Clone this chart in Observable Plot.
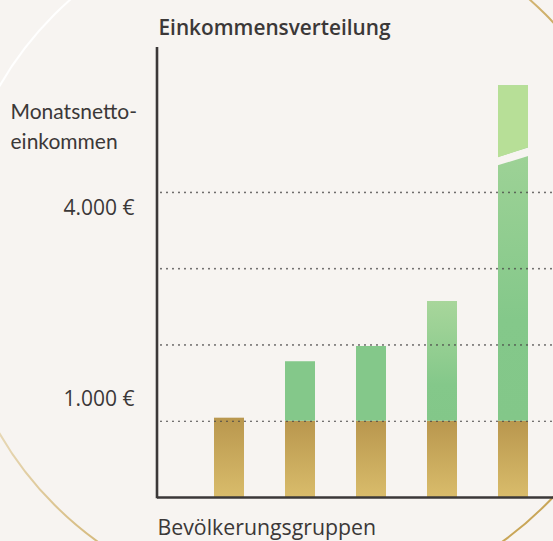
<!DOCTYPE html>
<html><head><meta charset="utf-8">
<script src="https://cdn.jsdelivr.net/npm/d3@7"></script>
<script src="https://cdn.jsdelivr.net/npm/@observablehq/plot@0.6"></script>
<style>html,body{margin:0;padding:0;background:#f7f4f1;overflow:hidden}</style>
</head><body><div id="chart"></div>
<script>
// ---- data ----
const groups = ["Gruppe 1", "Gruppe 2", "Gruppe 3", "Gruppe 4", "Gruppe 5"];
const baseIncome = [1040, 1000, 1000, 1000, 1000];
const extraIncome = [0, 780, 980, 1570, 4400];
const breakValue = 4400;            // where the tallest bar is visually broken
const gridValues = [1000, 2000, 3000, 4000];
const tickValues = [4000, 1000];
const tickLabels = ["4.000 €", "1.000 €"];
const title = "Einkommensverteilung";
const yLabel = "Monatsnetto-\neinkommen";
const xLabel = "Bevölkerungsgruppen";

const rows = groups.map((g, i) => ({group: g, base: baseIncome[i], extra: extraIncome[i], total: baseIncome[i] + extraIncome[i]}));

const NS = "http://www.w3.org/2000/svg";
const BG = "#f7f4f1";
const INK = "#3b3838";
const SANS = "'Open Sans', 'Noto Sans', sans-serif";

function defsMark() {
  const g = document.createElementNS(NS, "g");
  g.innerHTML = `<defs>
    <linearGradient id="goldGrad" x1="0" y1="0" x2="0" y2="1">
      <stop offset="0" stop-color="#b9974e"/><stop offset="1" stop-color="#d9bc6b"/>
    </linearGradient>
    <linearGradient id="greenGrad" x1="0" y1="0" x2="0" y2="1">
      <stop offset="0" stop-color="#a8d69b"/><stop offset="0.7" stop-color="#84c88a"/><stop offset="1" stop-color="#83c789"/>
    </linearGradient>
    <linearGradient id="ringGrad" gradientUnits="userSpaceOnUse" x1="40" y1="40" x2="400" y2="300">
      <stop offset="0" stop-color="#ffffff"/><stop offset="1" stop-color="#c9a658"/>
    </linearGradient>
  </defs>`;
  return g;
}

function ringMark(_, scales, values, dims) {
  const c = document.createElementNS(NS, "circle");
  c.setAttribute("cx", dims.width * 0.5425);
  c.setAttribute("cy", dims.height * 0.48);
  c.setAttribute("r", 347);
  c.setAttribute("fill", "none");
  c.setAttribute("stroke", "url(#ringGrad)");
  c.setAttribute("stroke-width", 2);
  return c;
}

function breakMark(_, scales) {
  const x = scales.x, y = scales.y;
  const last = rows[rows.length - 1];
  const bw = x.bandwidth ? x.bandwidth() : 30;
  const x0 = x(last.group), x1 = x0 + bw;
  const yTop = y(last.total);
  const yc = y(breakValue);
  const drop = bw * 0.33, gap = 8.4;
  const g = document.createElementNS(NS, "g");
  const gapPoly = document.createElementNS(NS, "polygon");
  gapPoly.setAttribute("points", [
    [x0 - 1, yc - gap / 2], [x1 + 1, yc - drop - gap / 2], [x1 + 1, yc - drop + gap / 2], [x0 - 1, yc + gap / 2]
  ].map(p => p.join(",")).join(" "));
  gapPoly.setAttribute("fill", BG);
  const upper = document.createElementNS(NS, "polygon");
  upper.setAttribute("points", [
    [x0, yTop], [x1, yTop], [x1, yc - drop - gap / 2], [x0, yc - gap / 2]
  ].map(p => p.join(",")).join(" "));
  upper.setAttribute("fill", "#b7df97");
  g.append(gapPoly, upper);
  return g;
}

const chart = Plot.plot({
  width: 553,
  height: 541,
  marginLeft: 157,
  marginRight: 0,
  marginTop: 47,
  marginBottom: 44,
  style: {background: BG, fontFamily: SANS, color: INK, overflow: "hidden"},
  x: {type: "band", domain: groups, range: [190.4, 551.6], paddingInner: 0.5833, paddingOuter: 0.3, axis: null},
  y: {domain: [0, 5900], axis: null},
  marks: [
    defsMark,
    ringMark,
    Plot.barY(rows, {x: "group", y1: 0, y2: "base", fill: "url(#goldGrad)"}),
    Plot.barY(rows.filter(d => d.extra > 0 && d.extra < 1200), {x: "group", y1: "base", y2: "total", fill: "#84c88a"}),
    Plot.barY(rows.filter(d => d.extra >= 1200), {x: "group", y1: "base", y2: "total", fill: "url(#greenGrad)"}),
    breakMark,
    Plot.ruleY(gridValues, {stroke: "#4a4848", strokeWidth: 1.7, strokeDasharray: "0 6", strokeLinecap: "round", strokeDashoffset: -4}),
    Plot.ruleY([0], {stroke: INK, strokeWidth: 2.6}),
    (_, s, v, d) => {
      const l = document.createElementNS(NS, "line");
      l.setAttribute("x1", d.marginLeft); l.setAttribute("x2", d.marginLeft);
      l.setAttribute("y1", d.marginTop); l.setAttribute("y2", d.height - d.marginBottom + 1.3);
      l.setAttribute("stroke", INK); l.setAttribute("stroke-width", 2.6);
      return l;
    },
    Plot.text([tickValues[0]], {y: d => d, text: () => tickLabels[0], frameAnchor: "left", textAnchor: "end", lineAnchor: "middle", dx: -23, dy: 15.4, fontSize: 21, fill: INK, fontFamily: SANS}),
    Plot.text([tickValues[1]], {y: d => d, text: () => tickLabels[1], frameAnchor: "left", textAnchor: "end", lineAnchor: "middle", dx: -23, dy: -21.7, fontSize: 21, fill: INK, fontFamily: SANS}),
    Plot.text([title], {text: d => d, frameAnchor: "top-left", textAnchor: "start", lineAnchor: "middle", dx: 1, dy: -19.4, fontSize: 20.8, fontWeight: 600, fill: INK, fontFamily: SANS}),
    Plot.text([yLabel], {text: d => d, frameAnchor: "top-left", textAnchor: "start", lineAnchor: "top", dx: -147, dy: 50, fontSize: 21, lineHeight: 1.43, fill: INK, fontFamily: "Lato, sans-serif"}),
    Plot.text([xLabel], {text: d => d, frameAnchor: "bottom-left", textAnchor: "start", lineAnchor: "middle", dx: 0, dy: 30.8, fontSize: 21.3, fill: INK, fontFamily: SANS})
  ]
});
document.getElementById("chart").append(chart);
</script>
</body></html>
